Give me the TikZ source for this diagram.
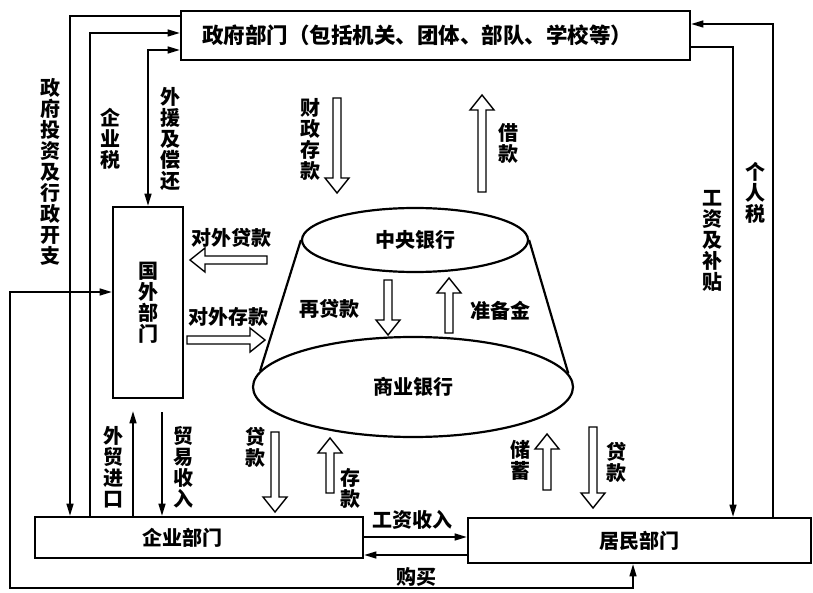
\documentclass[tikz,border=0pt]{standalone}
\usepackage{fontspec}
\setmainfont{Noto Sans CJK SC}
\usetikzlibrary{arrows.meta,shapes.geometric}
\tikzset{
  harrow/.pic={\draw[line width=1.4pt, fill=white] (0,-4) -- (#1-15,-4) -- (#1-15,-12) -- (#1,0) -- (#1-15,12) -- (#1-15,4) -- (0,4) -- cycle;}
}
\begin{document}
\begin{tikzpicture}[x=1pt,y=-1pt,
  >={Triangle[length=12pt,width=7pt]},
  every node/.style={font=\fontsize{20}{21}\selectfont\bfseries, inner sep=0pt},
  box/.style={draw, line width=2.6pt},
  bank/.style={ellipse, draw, line width=2.2pt},
  conn/.style={line width=1.2pt},
  vlab/.style={align=center}
]
\useasboundingbox (0,0) rectangle (813,593);

% boxes
\node[box, minimum width=509, minimum height=49, text width=467, inner xsep=21pt, align=left, font=\fontsize{21.5}{22}\selectfont\bfseries] (gov) at (435.5,35.5) {政府部门（包括机关、团体、部队、学校等）};
\node[box, minimum width=70, minimum height=191, align=center] (for) at (148,302.5) {国\\外\\部\\门};
\node[box, minimum width=328, minimum height=41, text width=114, inner xsep=107pt, align=left] (ent) at (199,537.5) {企业部门};
\node[box, minimum width=343, minimum height=45] (res) at (639.5,540.5) {居民部门};

% banks
\node[bank, minimum width=226, minimum height=64] (cb) at (415,240) {中央银行};
\node[bank, minimum width=320, minimum height=100] (comb) at (413,387) {商业银行};
\draw[line width=2.2pt] (cb.west) -- (comb.174);
\draw[line width=2.2pt] (cb.east) -- (comb.5);

% connectors
\draw[conn,->] (gov.west |- 0,16) -- (70,16) -- (ent.north -| 70,0);
\draw[conn,->] (ent.north -| 90,0) -- (90,33) -- (gov.west |- 0,33);
\draw[conn,<->] (gov.west |- 0,50) -- (for.north |- 0,50) -- (for.north);
\draw[conn,->,shorten >=12pt] (ent.north -| 133,0) -- (for.south -| 133,0);
\draw[conn,->,shorten <=13pt] (for.south -| 162,0) -- (ent.north -| 162,0);
\draw[conn,<->] (for.west |- 0,292) -- (10,292) -- (10,588) -- (633,588) -- (res.south -| 633,0);
\draw[conn,->] (ent.east |- 0,537) -- (res.west |- 0,537);
\draw[conn,->] (res.west |- 0,555) -- (ent.east |- 0,555);
\draw[conn,->] (gov.east |- 0,47) -- (733,47) -- (res.north -| 733,0);
\draw[conn,->] (res.north -| 773,0) -- (773,24) -- (gov.east |- 0,24);

% hollow arrows
\pic[rotate=-90] at (337,98) {harrow=95};
\pic[rotate=90] at (482,192) {harrow=97};
\pic[rotate=180] at (267,260) {harrow=77};
\pic at (187,340) {harrow=78};
\pic[rotate=-90] at (388,280) {harrow=55};
\pic[rotate=90] at (449,333) {harrow=55};
\pic[rotate=-90] at (275,432) {harrow=80};
\pic[rotate=90] at (330,493) {harrow=55};
\pic[rotate=90] at (547,490) {harrow=56};
\pic[rotate=-90] at (593,427) {harrow=81};

% labels
\node[vlab] (l1) at (50,172) {政\\府\\投\\资\\及\\行\\政\\开\\支};
\node[vlab] (l2) at (110,139) {企\\业\\税};
\node[vlab] (l3) at (170,139) {外\\援\\及\\偿\\还};
\node[vlab] (l4) at (310,139) {财\\政\\存\\款};
\node[vlab] (l5) at (508,143) {借\\款};
\node[vlab] (l6) at (712,241) {工\\资\\及\\补\\贴};
\node[vlab] (l7) at (755,193) {个\\人\\税};
\node (l8) at (231,238) {对外贷款};
\node (l9) at (228,317) {对外存款};
\node (l10) at (329,309) {再贷款};
\node (l11) at (500,311) {准备金};
\node[vlab] (l12) at (113,467) {外\\贸\\进\\口};
\node[vlab] (l13) at (183,467) {贸\\易\\收\\入};
\node[vlab] (l14) at (255,447) {贷\\款};
\node[vlab] (l15) at (350,488) {存\\款};
\node[vlab] (l16) at (520,460) {储\\蓄};
\node[vlab] (l17) at (616,462) {贷\\款};
\node (l18) at (412,520) {工资收入};
\node (l19) at (416,577) {购买};
\end{tikzpicture}
\end{document}
